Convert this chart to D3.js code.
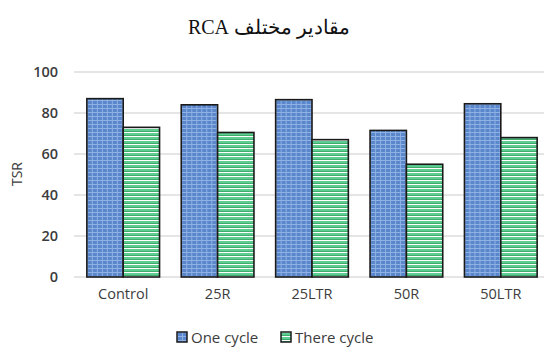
<!DOCTYPE html>
<html>
<head>
<meta charset="utf-8">
<script src="https://cdn.jsdelivr.net/npm/d3@7"></script>
<style>
  html, body { margin: 0; padding: 0; background: #fff; }
  svg { display: block; }
</style>
</head>
<body>
<svg id="chart" width="544" height="347"></svg>
<script>
// Categories and TSR values per cycle
const categories = ["Control", "25R", "25LTR", "50R", "50LTR"];
const seriesNames = ["One cycle", "There cycle"];
const oneCycle = [87, 84, 86.5, 71.5, 84.5];
const thereCycle = [73, 70.5, 67, 55, 68];
const yTicks = [0, 20, 40, 60, 80, 100];
const titleText = "مقادیر مختلف RCA";
const yAxisTitle = "TSR";

const series = [oneCycle, thereCycle];

const svg = d3.select("#chart");
const width = 544, height = 347;
const margin = { top: 72, right: -4, bottom: 70, left: 76 };
const labelFont = "'Open Sans', sans-serif";
const labelColor = "#3c3c3c";

// Fill patterns: dotted grid for the blue series, horizontal stripes for the green
const defs = svg.append("defs");
const pBlue = defs.append("pattern")
  .attr("id", "pat0").attr("patternUnits", "userSpaceOnUse")
  .attr("width", 5).attr("height", 4);
pBlue.append("rect").attr("width", 5).attr("height", 4).attr("fill", "#5a86cb");
pBlue.append("rect").attr("x", 0).attr("y", 0).attr("width", 5).attr("height", 1).attr("fill", "#8fb1e3");
pBlue.append("rect").attr("x", 0).attr("y", 0).attr("width", 1).attr("height", 4).attr("fill", "#8fb1e3");

const pGreen = defs.append("pattern")
  .attr("id", "pat1").attr("patternUnits", "userSpaceOnUse")
  .attr("width", 6).attr("height", 4);
pGreen.append("rect").attr("width", 6).attr("height", 4).attr("fill", "#5ecd90");
pGreen.append("rect").attr("y", 0).attr("width", 6).attr("height", 1).attr("fill", "#ffffff");
pGreen.append("rect").attr("y", 3).attr("width", 6).attr("height", 1).attr("fill", "#3fab6e");

const x0 = d3.scaleBand()
  .domain(categories)
  .range([margin.left, width - margin.right])
  .paddingInner(0.23)
  .paddingOuter(0.115);

const x1 = d3.scaleBand()
  .domain(d3.range(series.length))
  .range([0, x0.bandwidth()]);

const y = d3.scaleLinear()
  .domain([0, 100])
  .range([height - margin.bottom, margin.top]);

// Horizontal gridlines
svg.append("g")
  .selectAll("line")
  .data(yTicks)
  .join("line")
  .attr("x1", margin.left - 2)
  .attr("x2", width)
  .attr("y1", d => y(d))
  .attr("y2", d => y(d))
  .attr("stroke", "#dcdcdc")
  .attr("stroke-width", 1.6);

// Y axis tick labels
const yAxis = d3.axisLeft(y).tickValues(yTicks).tickSize(0).tickPadding(0);
svg.append("g")
  .attr("transform", `translate(${margin.left - 18},0)`)
  .call(yAxis)
  .call(g => g.select(".domain").remove())
  .call(g => g.selectAll("text")
    .attr("font-family", labelFont)
    .attr("font-size", 14.5)
    .attr("font-weight", 600)
    .attr("fill", labelColor));

// X axis category labels
const xAxis = d3.axisBottom(x0).tickSize(0).tickPadding(0);
svg.append("g")
  .attr("transform", `translate(0,${height - margin.bottom + 12})`)
  .call(xAxis)
  .call(g => g.select(".domain").remove())
  .call(g => g.selectAll("text")
    .attr("font-family", labelFont)
    .attr("font-size", 14.5)
    .attr("font-weight", 500)
    .attr("fill", labelColor));

// Bars
const groups = svg.append("g")
  .selectAll("g")
  .data(categories)
  .join("g")
  .attr("transform", d => `translate(${x0(d)},0)`);

groups.selectAll("rect")
  .data((c, i) => series.map((s, k) => ({ k, v: s[i] })))
  .join("rect")
  .attr("x", d => x1(d.k))
  .attr("width", x1.bandwidth())
  .attr("y", d => y(d.v))
  .attr("height", d => y(0) - y(d.v))
  .attr("fill", d => `url(#pat${d.k})`)
  .attr("stroke", "#1a1a1a")
  .attr("stroke-width", 1.6);

// Title (right-to-left run)
svg.append("text")
  .attr("x", 269)
  .attr("y", 34)
  .attr("text-anchor", "middle")
  .attr("direction", "rtl")
  .attr("font-family", "'Liberation Serif', 'Times New Roman', serif")
  .attr("font-size", 20)
  .attr("fill", "#111")
  .text(titleText);

// Y axis title
svg.append("text")
  .attr("transform", `translate(22,174) rotate(-90)`)
  .attr("text-anchor", "middle")
  .attr("font-family", labelFont)
  .attr("font-size", 14)
  .attr("font-weight", 500)
  .attr("fill", labelColor)
  .text(yAxisTitle);

// Legend
const legendX = [177, 281];
const legend = svg.append("g")
  .selectAll("g")
  .data(seriesNames)
  .join("g")
  .attr("transform", (d, i) => `translate(${legendX[i]},332)`);
legend.append("rect")
  .attr("width", 10).attr("height", 10)
  .attr("fill", (d, i) => `url(#pat${i})`)
  .attr("stroke", "#1a1a1a")
  .attr("stroke-width", 1.5);
legend.append("text")
  .attr("x", 14)
  .attr("y", 10.5)
  .attr("font-family", labelFont)
  .attr("font-size", 15)
  .attr("font-weight", 500)
  .attr("fill", labelColor)
  .text(d => d);
</script>
</body>
</html>
